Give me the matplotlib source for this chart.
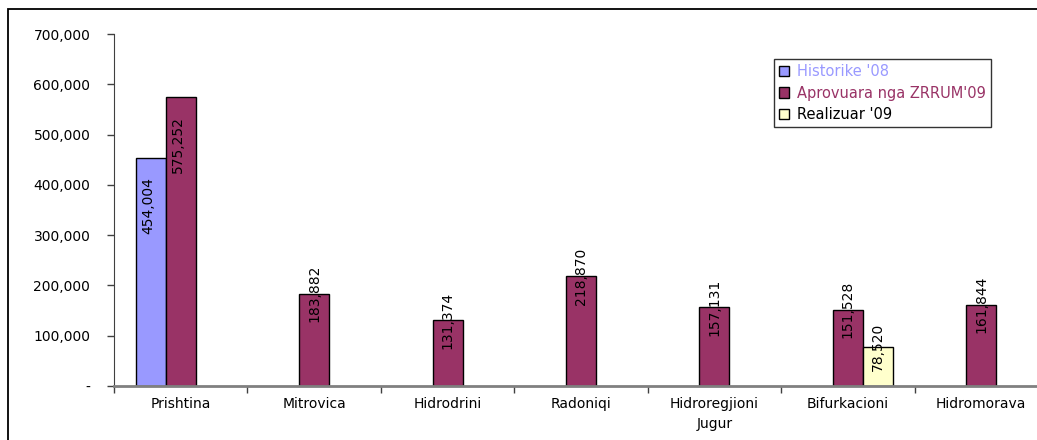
import numpy as np
import matplotlib
matplotlib.use("Agg")
import matplotlib.pyplot as plt
from matplotlib.patches import Rectangle
from matplotlib.ticker import FuncFormatter

categories = ["Prishtina", "Mitrovica", "Hidrodrini", "Radoniqi",
              "Hidroregjioni\nJugur", "Bifurkacioni", "Hidromorava"]
series_names = ["Historike '08", "Aprovuara nga ZRRUM'09", "Realizuar '09"]
historike = [454004, np.nan, np.nan, np.nan, np.nan, np.nan, np.nan]
aprovuara = [575252, 183882, 131374, 218870, 157131, 151528, 161844]
realizuar = [np.nan, np.nan, np.nan, np.nan, np.nan, 78520, np.nan]

colors = ["#9999FF", "#993366", "#FFFFCC"]
text_colors = ["#9999FF", "#993366", "black"]

plt.rcParams["font.family"] = ["DejaVu Sans"]

fig = plt.figure(figsize=(10.37, 4.40), dpi=100)
ax = fig.add_axes([0.1099, 0.1227, 0.9007, 0.8])

# outer chart border
fig.patches.append(Rectangle((0.0077, -0.2), 1.2, 1.18, transform=fig.transFigure,
                             fill=False, edgecolor="black", linewidth=1.3))

x = np.arange(len(categories))
w = 0.225
all_series = [historike, aprovuara, realizuar]
for i, vals in enumerate(all_series):
    pos = x + (i - 1) * w
    ax.bar(pos, vals, width=w, color=colors[i], edgecolor="black",
           linewidth=1.0, label=series_names[i])
    for xp, v in zip(pos, vals):
        if np.isnan(v):
            continue
        lab = f"{v:,.0f}"
        if v > 300000:
            ax.annotate(lab, (xp, v), xytext=(-2, -14), textcoords="offset points",
                        rotation=90, ha="center", va="top", fontsize=10)
        else:
            ax.annotate(lab, (xp, v), xytext=(0, 0), textcoords="offset points",
                        rotation=90, ha="center", va="center", fontsize=10)

ax.set_ylim(0, 700000)
ax.set_xlim(-0.5, len(categories) - 0.5)
ax.set_yticks(np.arange(0, 700001, 100000))
ax.yaxis.set_major_formatter(FuncFormatter(lambda v, p: "-" if v == 0 else f"{v:,.0f}"))
ax.tick_params(axis="y", direction="out", length=5, width=1, color="#404040",
               labelsize=10, pad=12)

ax.set_xticks(np.arange(-0.5, len(categories), 1.0))
ax.set_xticklabels([])
ax.set_xticks(x, minor=True)
ax.set_xticklabels(categories, minor=True, fontsize=10, linespacing=1.5)
ax.tick_params(axis="x", which="major", direction="out", length=5, width=1, color="#404040")
ax.tick_params(axis="x", which="minor", length=0, pad=8)

for s in ["top", "right"]:
    ax.spines[s].set_visible(False)
ax.spines["left"].set_color("#404040")
ax.spines["bottom"].set_color("#808080")
ax.spines["bottom"].set_linewidth(2)

leg = fig.legend(loc="upper left", bbox_to_anchor=(774 / 1037, 1 - 59 / 440),
                 fontsize=10.5, frameon=True, fancybox=False, edgecolor="black",
                 handlelength=0.7, handleheight=0.7, handletextpad=0.5,
                 labelspacing=0.45, borderpad=0.35, borderaxespad=0)
leg.get_frame().set_linewidth(1.0)
for t, c in zip(leg.get_texts(), text_colors):
    t.set_color(c)

fig.savefig("out.png", dpi=100)
